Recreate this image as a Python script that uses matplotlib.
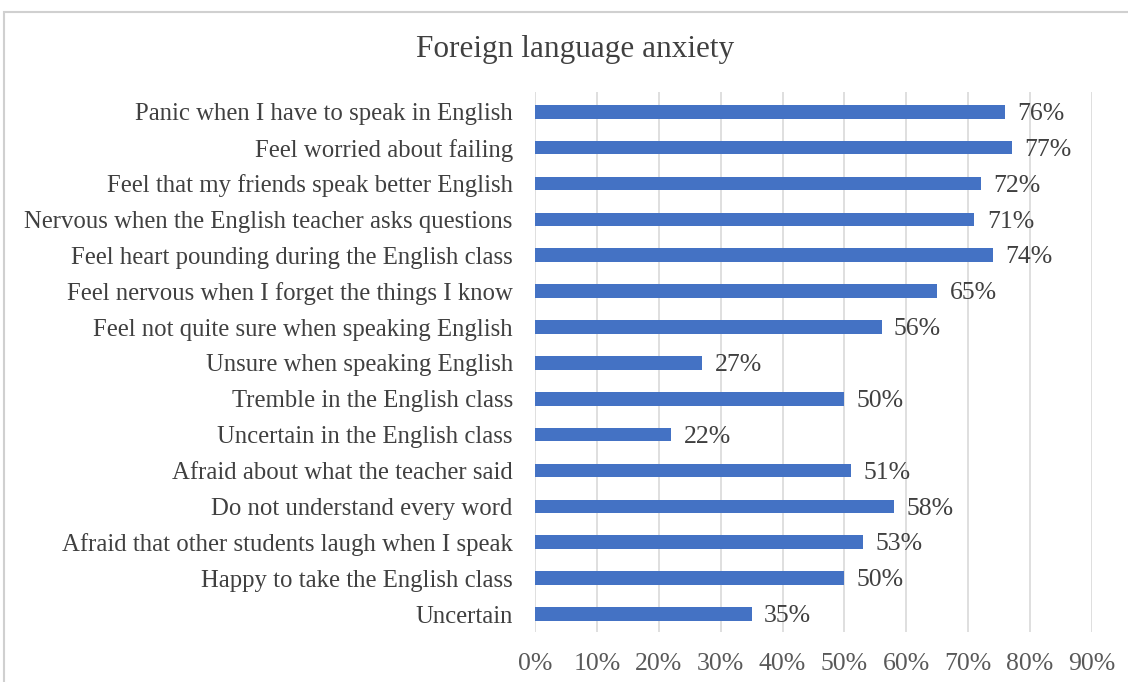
import numpy as np
import matplotlib.pyplot as plt
from matplotlib.patches import Rectangle

categories = [
    "Panic when I have to speak in English",
    "Feel worried about failing",
    "Feel that my friends speak better English",
    "Nervous when the English teacher asks questions",
    "Feel heart pounding during the English class",
    "Feel nervous when I forget the things I know",
    "Feel not quite sure when speaking English",
    "Unsure when speaking English",
    "Tremble in the English class",
    "Uncertain in the English class",
    "Afraid about what the teacher said",
    "Do not understand every word",
    "Afraid that other students laugh when I speak",
    "Happy to take the English class",
    "Uncertain",
]
values = [76, 77, 72, 71, 74, 65, 56, 27, 50, 22, 51, 58, 53, 50, 35]
ticks = [0, 10, 20, 30, 40, 50, 60, 70, 80, 90]

plt.rcParams['font.family'] = ['Liberation Serif', 'DejaVu Serif']

fig = plt.figure(figsize=(11.28, 6.82), dpi=100)
# light frame around the chart area
fig.patches.append(Rectangle((4 / 1128, -0.05), 1.2, 1 - 12 / 682 + 0.05,
                             transform=fig.transFigure, fill=False,
                             edgecolor='#d0d0d0', linewidth=1.5))

ax = fig.add_axes([535 / 1128, 1 - 632 / 682, (1092 - 535) / 1128, (632 - 92) / 682])

y = np.arange(len(categories))
ax.barh(y, values, height=0.38, color='#4472c4', zorder=3)

for yi, v in zip(y, values):
    ax.text(v + 2.0, yi + 0.06, f"{v}%", va='center', ha='left', fontsize=18.5, color='#404040')

ax.set_xlim(0, 90)
ax.set_ylim(14.5, -0.55)
ax.set_xticks(ticks)
ax.set_xticklabels([f"{t}%" for t in ticks], fontsize=18.5, color='#595959')
ax.set_yticks(y)
ax.set_yticklabels(categories, fontsize=17.8, color='#404040')
ax.tick_params(axis='both', length=0)
ax.tick_params(axis='x', pad=15)
ax.tick_params(axis='y', pad=16)
ax.grid(axis='x', color='#d9d9d9', linewidth=1.2, zorder=0)
for s in ax.spines.values():
    s.set_visible(False)

fig.text(575 / 1128, 1 - 50 / 682, "Foreign language anxiety", ha='center', va='center',
         fontsize=22.5, color='#404040')

fig.savefig('out.png', dpi=100)
